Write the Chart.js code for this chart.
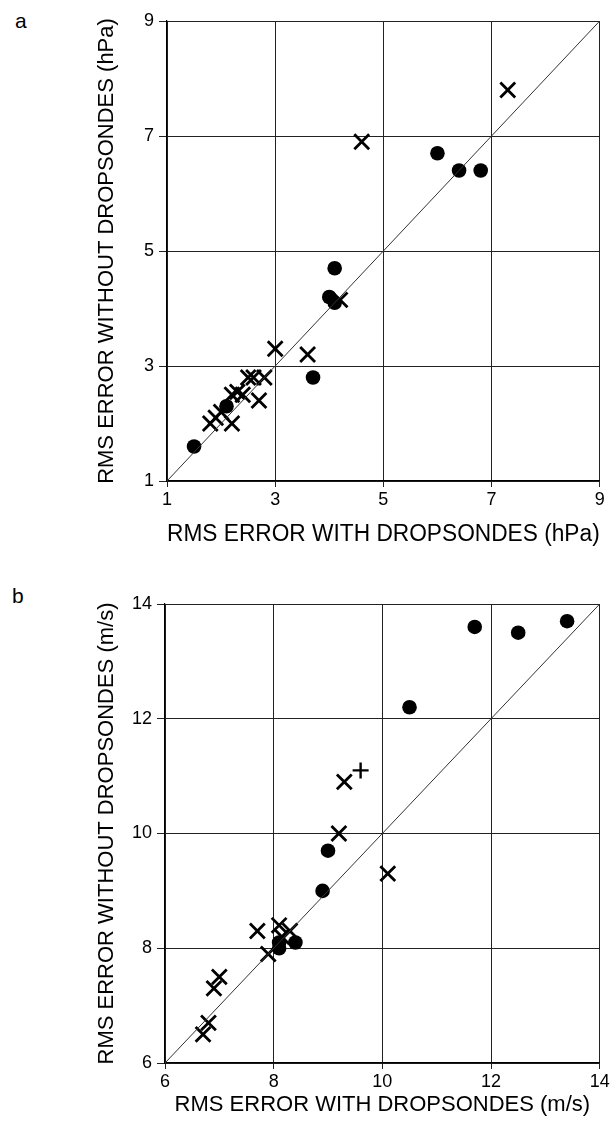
<!DOCTYPE html>
<html lang="en">
<head>
<meta charset="UTF-8">
<script src="https://cdn.jsdelivr.net/npm/chart.js"></script>
<title>RMS error with and without dropsondes</title>
<style>
  body { margin: 0; background: #fff; width: 613px; height: 1124px; position: relative; font-family: "Liberation Sans", Arial, sans-serif; }
  .painel { position: absolute; left: 0; }
  .letra { position: absolute; font-size: 21px; color: #000; }
</style>
</head>
<body>
  <div class="letra" style="left:15px; top:9px;">a</div>
  <div class="letra" style="left:12px; top:584px;">b</div>
  <div class="painel" style="top:0px;"><canvas id="graficoA" width="613" height="560"></canvas></div>
  <div class="painel" style="top:560px;"><canvas id="graficoB" width="613" height="564"></canvas></div>

<script>
  // painel a - pressao (hPa)
  const ticksA = [1, 3, 5, 7, 9];
  const pontosA_x = [1.5, 2.1, 3.7, 4.0, 4.1, 4.1, 6.0, 6.4, 6.8];
  const pontosA_y = [1.6, 2.3, 2.8, 4.2, 4.1, 4.7, 6.7, 6.4, 6.4];
  const xisA_x = [1.8, 1.9, 2.0, 2.2, 2.2, 2.3, 2.4, 2.5, 2.6, 2.7, 2.8, 3.0, 3.6, 4.2, 4.6, 7.3];
  const xisA_y = [2.0, 2.1, 2.2, 2.0, 2.5, 2.55, 2.5, 2.8, 2.8, 2.4, 2.8, 3.3, 3.2, 4.15, 6.9, 7.8];

  // painel b - vento (m/s)
  const ticksB = [6, 8, 10, 12, 14];
  const pontosB_x = [8.1, 8.1, 8.4, 8.9, 9.0, 10.5, 11.7, 12.5, 13.4];
  const pontosB_y = [8.0, 8.1, 8.1, 9.0, 9.7, 12.2, 13.6, 13.5, 13.7];
  const xisB_x = [6.7, 6.8, 6.9, 7.0, 7.7, 7.9, 8.1, 8.15, 8.3, 9.2, 9.3, 10.1];
  const xisB_y = [6.5, 6.7, 7.3, 7.5, 8.3, 7.9, 8.4, 8.2, 8.3, 10.0, 10.9, 9.3];
  const maisB_x = [9.6];
  const maisB_y = [11.1];

  function juntar(xs, ys) {
    return xs.map(function (x, i) { return { x: x, y: ys[i] }; });
  }

  function montarGrafico(id, ticks, pontos, xis, mais, tituloX, tituloY, geo) {
    const fonte = '"Liberation Sans", Arial, sans-serif';
    const min = ticks[0];
    const max = ticks[ticks.length - 1];

    const datasets = [
      {
        // linha 1:1
        type: 'line',
        data: [{ x: min, y: min }, { x: max, y: max }],
        borderColor: '#333',
        borderWidth: 1,
        pointRadius: 0,
        fill: false
      },
      {
        data: xis,
        pointStyle: 'crossRot',
        pointRadius: 10.5,
        borderColor: '#000',
        borderWidth: 2.8
      },
      {
        data: pontos,
        pointStyle: 'circle',
        pointRadius: 7.3,
        backgroundColor: '#000',
        borderColor: '#000',
        borderWidth: 0
      }
    ];
    if (mais.length) {
      datasets.push({
        data: mais,
        pointStyle: 'cross',
        pointRadius: 8,
        borderColor: '#000',
        borderWidth: 2.4
      });
    }

    const eixo = function (titulo, padTitulo, tamTitulo, tamTick, padTick) {
      return {
        type: 'linear',
        min: min,
        max: max,
        afterBuildTicks: function (scale) {
          scale.ticks = ticks.map(function (v) { return { value: v }; });
        },
        grid: { color: '#222', lineWidth: 1, tickLength: tamTick, drawTicks: true },
        border: { color: '#000', width: 1.2 },
        ticks: { color: '#000', font: { family: fonte, size: 18 }, padding: padTick, autoSkip: false, maxRotation: 0 },
        title: { display: true, text: titulo, color: '#000', font: { family: fonte, size: tamTitulo }, padding: padTitulo }
      };
    };

    const escX = eixo(tituloX, { top: 0, bottom: geo.padTituloX }, geo.fonteX, 6, 2);
    escX.afterFit = function (scale) { scale.height = geo.altX; };
    const escY = eixo(tituloY, { top: 94, bottom: 0 }, 22, 8, 5);
    escY.afterFit = function (scale) { scale.width = geo.largY; };

    new Chart(document.getElementById(id), {
      type: 'scatter',
      data: { datasets: datasets },
      options: {
        responsive: false,
        animation: false,
        layout: { padding: { top: geo.topo, right: geo.direita, left: 0, bottom: 0 } },
        plugins: { legend: { display: false }, tooltip: { enabled: false } },
        scales: { x: escX, y: escY }
      }
    });
  }

  montarGrafico('graficoA', ticksA, juntar(pontosA_x, pontosA_y), juntar(xisA_x, xisA_y), [],
    'RMS ERROR WITH DROPSONDES (hPa)', 'RMS ERROR WITHOUT DROPSONDES (hPa)',
    { topo: 21, direita: 10, largY: 167, altX: 79, fonteX: 23, padTituloX: 12 });

  montarGrafico('graficoB', ticksB, juntar(pontosB_x, pontosB_y), juntar(xisB_x, xisB_y), juntar(maisB_x, maisB_y),
    'RMS ERROR WITH DROPSONDES (m/s)', 'RMS ERROR WITHOUT DROPSONDES (m/s)',
    { topo: 44, direita: 12, largY: 165, altX: 61, fonteX: 22, padTituloX: 6 });
</script>
</body>
</html>
